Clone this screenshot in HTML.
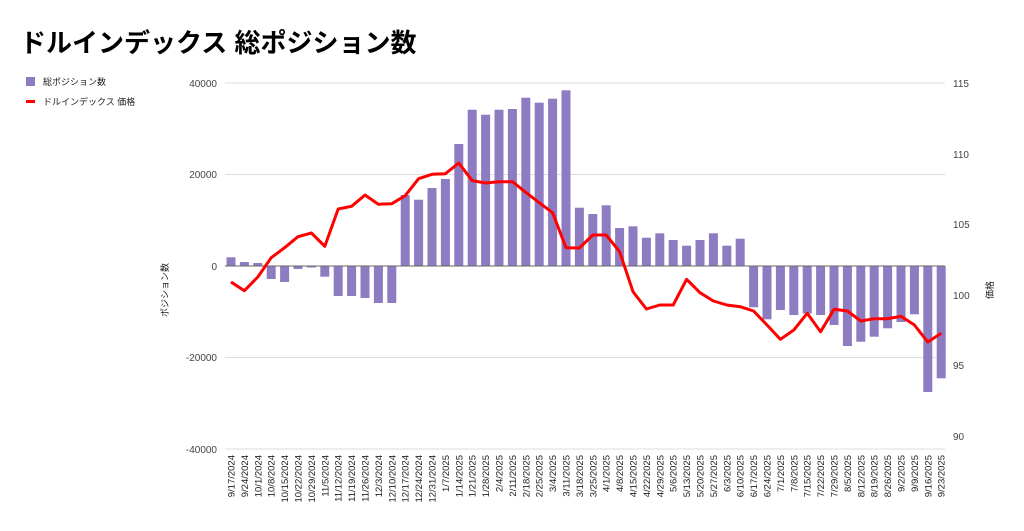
<!DOCTYPE html>
<html><head><meta charset="utf-8"><style>
html,body{margin:0;padding:0;background:#fff;width:1024px;height:531px;overflow:hidden}
svg{display:block;font-family:"Liberation Sans","Noto Sans CJK JP",sans-serif}
</style></head><body>
<svg id="c" width="1024" height="531" viewBox="0 0 1024 531" xmlns="http://www.w3.org/2000/svg">
<text x="20" y="52" font-size="26" font-weight="bold" fill="#000">ドルインデックス 総ポジション数</text>
<rect x="26" y="77" width="9" height="9" fill="#8e7cc3"/>
<text x="43" y="85" font-size="9" fill="#222">総ポジション数</text>
<rect x="26" y="100" width="9" height="3" fill="#ff0000"/>
<text x="43" y="105" font-size="9" fill="#222">ドルインデックス 価格</text>
<g id="grid" stroke="#dddddd" stroke-width="1">
<line x1="225" x2="945" y1="83" y2="83"/><line x1="225" x2="945" y1="174.5" y2="174.5"/>
<line x1="225" x2="945" y1="357.5" y2="357.5"/><line x1="225" x2="945" y1="449" y2="449"/>
</g>
<g font-size="10" fill="#444" text-anchor="end">
<text x="217" y="87">40000</text><text x="217" y="178">20000</text><text x="217" y="270">0</text>
<text x="217" y="361">-20000</text><text x="217" y="453">-40000</text>
</g>
<g font-size="10" fill="#444">
<text x="953" y="87">115</text><text x="953" y="158">110</text><text x="953" y="228">105</text>
<text x="953" y="299">100</text><text x="953" y="369">95</text><text x="953" y="440">90</text>
</g>
<text transform="translate(168,290) rotate(-90)" font-size="9" fill="#222" text-anchor="middle">ポジション数</text>
<text transform="translate(993,290) rotate(-90)" font-size="9" fill="#222" text-anchor="middle">価格</text>
<g id="bars"></g>
<line x1="225" x2="945" y1="266" y2="266" stroke="#666" stroke-width="1"/>
<polyline id="ln" fill="none" stroke="#ff0000" stroke-width="3" stroke-linejoin="round"/>
<g id="lab" font-size="9.5" fill="#222" text-anchor="end"></g>
</svg>
<script>
var tops=[257.3,262,263,279,282,269,267.5,276.7,296,296,298,303,303,195,199.7,188,179,144,109.7,114.7,109.7,109,97.7,102.7,98.7,90.3,207.7,214,205.3,228,226.3,237.7,233.3,240,245.7,240,233.3,245.7,238.7,307.3,319.3,310,315,313.5,315,325,346,341.7,336.7,328.3,322,314.3,392,378.3];
var ly=[282,290.7,277,257.7,247.7,236.7,233,246.3,209,206.3,195,204.3,203.7,195.7,178.7,174.3,173.7,163,180.7,183,181.7,181.7,192.3,202.7,212.7,247.7,248,236,235,235,251.7,291.7,309,305,305,279.3,292.7,301,305,306.7,311,325,339.3,330,313.3,331.7,309.3,311,321,318.7,318.7,316.3,325,342,333.3];
ly.splice(27,1);
var ns="http://www.w3.org/2000/svg",b=document.getElementById('bars'),lab=document.getElementById('lab'),pts=[];
var d=new Date(2024,8,17);
for(var i=0;i<54;i++){
 var x=231+i*13.4,t=tops[i],y0=Math.min(t,266),h=Math.abs(266-t);
 var r=document.createElementNS(ns,'rect');r.setAttribute('x',x-4.5);r.setAttribute('y',y0);r.setAttribute('width',9);r.setAttribute('height',Math.max(h,0.8));r.setAttribute('fill','#8e7cc3');b.appendChild(r);
 pts.push(x.toFixed(1)+','+ly[i]);
 var s=(d.getMonth()+1)+'/'+d.getDate()+'/'+d.getFullYear();
 var tx=document.createElementNS(ns,'text');tx.setAttribute('transform','translate('+(x+3.5)+',455) rotate(-90)');tx.textContent=s;lab.appendChild(tx);
 d.setDate(d.getDate()+7);
}
document.getElementById('ln').setAttribute('points',pts.join(' '));
</script>
</body></html>
